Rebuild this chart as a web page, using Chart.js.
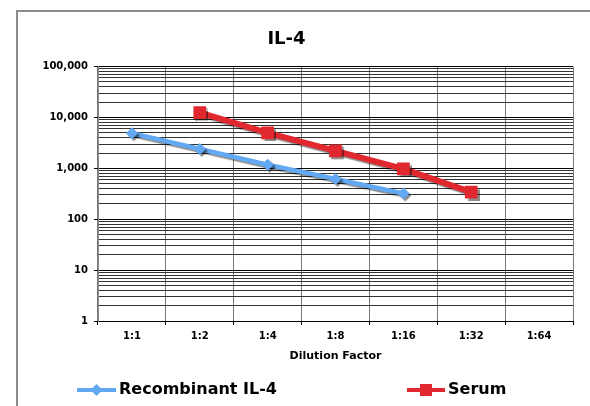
<!DOCTYPE html>
<html>
<head>
<meta charset="utf-8">
<script src="https://cdn.jsdelivr.net/npm/chart.js@4"></script>
<style>
html, body { margin: 0; padding: 0; background: #fff; overflow: hidden; }
#wrap { position: relative; width: 590px; height: 406px; }
#frame { position: absolute; left: 16px; top: 10px; width: 600px; height: 420px; border: 2px solid #8c8c8c; box-sizing: border-box; }
canvas { position: absolute; left: 0; top: 0; }
</style>
</head>
<body>
<div id="wrap">
  <div id="frame"></div>
  <canvas id="myChart" width="590" height="406"></canvas>
</div>
<script>
// data
const dilutions = ["1:1", "1:2", "1:4", "1:8", "1:16", "1:32", "1:64"];
const recombinantIL4 = [4900, 2400, 1180, 620, 320, null, null];
const serum = [null, 12500, 5000, 2200, 980, 340, null];
const decades = [1, 10, 100, 1000, 10000, 100000];
const steps = [1, 2, 3, 4, 5, 6, 7, 8, 9];

// every gridline of the log axis (1..9 per decade)
let yGrid = [];
decades.forEach(d => {
    if (d === 100000) { yGrid.push(d); return; }
    steps.forEach(s => yGrid.push(d * s));
});

const isDecade = v => decades.indexOf(v) >= 0;
const font = "'DejaVu Sans', Verdana, sans-serif";

const blue = "#62a8f2";
const red = "#e0282e";

// gray drop shadow under the lines, like the original
const shadowPlugin = {
    id: "shadow",
    beforeDatasetsDraw(chart) {
        const ctx = chart.ctx;
        ctx.save();
        ctx.shadowColor = "rgba(0,0,0,0.45)";
        ctx.shadowOffsetX = 2;
        ctx.shadowOffsetY = 2;
        ctx.shadowBlur = 1;
    },
    afterDatasetsDraw(chart) {
        chart.ctx.restore();
    }
};

// legend spread out like the Excel one
const legendPlugin = {
    id: "wideLegend",
    afterDraw(chart) {
        const ctx = chart.ctx;
        const items = [
            { x: 77, w: 39, shape: "diamond" },
            { x: 407, w: 38, shape: "square" }
        ];
        const y = 390;
        ctx.save();
        chart.data.datasets.forEach((ds, i) => {
            const it = items[i];
            ctx.strokeStyle = ds.borderColor;
            ctx.lineWidth = 4;
            ctx.beginPath();
            ctx.moveTo(it.x, y);
            ctx.lineTo(it.x + it.w, y);
            ctx.stroke();
            ctx.fillStyle = ds.borderColor;
            const cx = it.x + it.w / 2;
            ctx.beginPath();
            if (it.shape === "diamond") {
                ctx.moveTo(cx, y - 6);
                ctx.lineTo(cx + 6, y);
                ctx.lineTo(cx, y + 6);
                ctx.lineTo(cx - 6, y);
                ctx.closePath();
            } else {
                ctx.rect(cx - 6, y - 6, 12, 12);
            }
            ctx.fill();
            ctx.fillStyle = "#000";
            ctx.font = "bold 16px " + font;
            ctx.textBaseline = "middle";
            ctx.textAlign = "left";
            ctx.fillText(ds.label, it.x + it.w + 3, y);
        });
        ctx.restore();
    }
};

new Chart("myChart", {
    type: "line",
    data: {
        labels: dilutions,
        datasets: [{
            label: "Recombinant IL-4",
            data: recombinantIL4,
            borderColor: blue,
            backgroundColor: blue,
            borderWidth: 4.5,
            pointStyle: "rectRot",
            pointRadius: 6,
            pointBorderWidth: 0,
            fill: false,
            tension: 0
        }, {
            label: "Serum",
            data: serum,
            borderColor: red,
            backgroundColor: red,
            borderWidth: 6,
            pointStyle: "rect",
            pointRadius: 9,
            pointBorderWidth: 0,
            fill: false,
            tension: 0
        }]
    },
    options: {
        responsive: false,
        animation: false,
        devicePixelRatio: 1,
        layout: { padding: { left: 0, right: 17, top: 0, bottom: 35 } },
        plugins: {
            legend: { display: false },
            tooltip: { enabled: false },
            title: {
                display: true,
                text: "IL-4",
                color: "#000",
                font: { family: font, size: 18, weight: "bold" },
                padding: { top: 29, bottom: 16 }
            }
        },
        scales: {
            x: {
                type: "category",
                offset: true,
                grid: { offset: true, color: "#777", tickColor: "#000", tickLength: 4 },
                border: { color: "#000", width: 1 },
                ticks: { color: "#000", font: { family: font, size: 10, weight: "bold" }, padding: 5, maxRotation: 0 },
                title: {
                    display: true,
                    text: "Dilution Factor",
                    color: "#000",
                    font: { family: font, size: 11, weight: "bold" },
                    padding: { top: 0, bottom: 8 }
                },
                afterFit: s => { s.height = 50; }
            },
            y: {
                type: "logarithmic",
                min: 1,
                max: 100000,
                afterBuildTicks: s => { s.ticks = yGrid.map(v => ({ value: v, major: isDecade(v) })); },
                ticks: {
                    autoSkip: false,
                    color: "#000",
                    padding: 6,
                    font: { family: font, size: 10, weight: "bold" },
                    callback: v => isDecade(v) ? v.toLocaleString("en-US") : ""
                },
                grid: {
                    color: c => (c.tick && isDecade(c.tick.value)) ? "#000" : "#333",
                    tickColor: c => (c.tick && isDecade(c.tick.value)) ? "#000" : "rgba(0,0,0,0)",
                    tickLength: 4
                },
                border: { color: "#888", width: 1 },
                afterFit: s => { s.width = 98; }
            }
        }
    },
    plugins: [shadowPlugin, legendPlugin]
});
</script>
</body>
</html>
